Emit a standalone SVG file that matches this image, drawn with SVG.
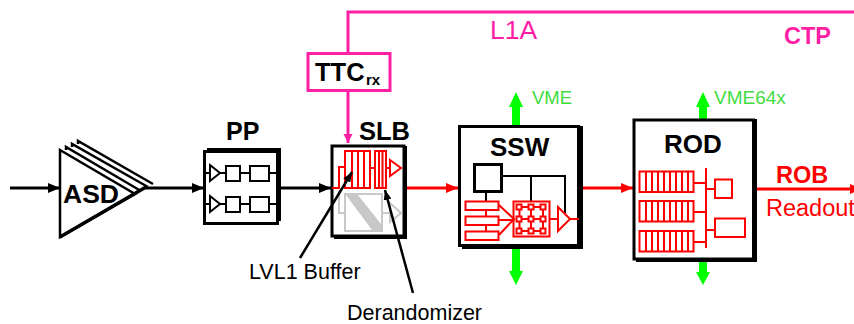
<svg xmlns="http://www.w3.org/2000/svg" width="854" height="324" viewBox="0 0 854 324">
<style>
text{font-family:"Liberation Sans",Arial,sans-serif}
.t{font-weight:700;fill:#000}
.k{fill:none;stroke:#000;stroke-width:2}
.kf{fill:#fff;stroke:#000;stroke-width:2}
.r{fill:none;stroke:#f00;stroke-width:2}
.rf{fill:#fff;stroke:#f00;stroke-width:2}
.g{fill:none;stroke:#c8c8c8;stroke-width:2}
.box{fill:#fff;stroke:#000;stroke-width:3}
.con{fill:none;stroke-width:3}
.lbl{font-size:21.500px;fill:#000}
</style>
<defs>
<marker id="ak" markerUnits="userSpaceOnUse" markerWidth="12" markerHeight="10" refX="12" refY="5" orient="auto"><path d="M0 0L12 5L0 10Z" fill="#000"/></marker>
<marker id="ar" markerUnits="userSpaceOnUse" markerWidth="12" markerHeight="10" refX="12" refY="5" orient="auto"><path d="M0 0L12 5L0 10Z" fill="#f00"/></marker>
<marker id="ap" markerUnits="userSpaceOnUse" markerWidth="9" markerHeight="10" refX="9" refY="5" orient="auto"><path d="M0 0.5L9 5L0 9.5Z" fill="#ff1fa5"/></marker>
<marker id="as" markerUnits="userSpaceOnUse" markerWidth="10" markerHeight="8" refX="10" refY="4" orient="auto"><path d="M0 0L10 4L0 8Z" fill="#000"/></marker>
</defs>
<g id="connectors">
<path class="con" stroke="#000" marker-end="url(#ak)" d="M10 188H60"/>
<path class="con" stroke="#000" marker-end="url(#ak)" d="M144 188H204"/>
<path class="con" stroke="#000" marker-end="url(#ak)" d="M281 188H331"/>
<path class="con" stroke="#f00" marker-end="url(#ar)" d="M407 188H458"/>
<path class="con" stroke="#f00" marker-end="url(#ar)" d="M583 188H633"/>
<path class="con" stroke="#f00" marker-end="url(#ar)" d="M757 189H862"/>
<path class="con" stroke="#ff1fa5" d="M854 12H348V53"/>
<path class="con" stroke="#ff1fa5" marker-end="url(#ap)" d="M348 90V143"/>
<path fill="#0f0" d="M516 92L523 107H520V126H512V107H509Z"/>
<path fill="#0f0" d="M516 285L523 271H520V249H512V271H509Z"/>
<path fill="#0f0" d="M703 92L710 107H707V119H699V107H696Z"/>
<path fill="#0f0" d="M703 285L710 272H707V262H699V272H696Z"/>
</g>
<g id="asd">
<path d="M66 150V147L141 191M72 147V144L148 187M78 144V141L153 184" fill="none" stroke="#000" stroke-width="2.500"/>
<path d="M60 150L135 194L60 237Z" fill="#fff" stroke="#000" stroke-width="2.500"/>
<path d="M60 237L146 187" stroke="#000" stroke-width="3.500" fill="none"/>
<text class="t" x="63" y="203" font-size="26.500">ASD</text>
</g>
<g id="pp">
<path d="M207 148H281V221H278V151H207Z" fill="#000"/>
<rect class="box" x="204.500" y="151.500" width="73" height="72" stroke-width="2"/>
<text class="t" x="226" y="140" font-size="25">PP</text>
<path class="k" d="M204 173H210M220 173H226M240 173H250M269 173H278M204 204H210M220 204H226M240 204H250M269 204H278"/>
<path class="kf" d="M210 165L220 173L210 181ZM210 196L220 204L210 212Z"/>
<rect class="kf" x="226" y="166" width="14" height="15"/><rect class="kf" x="250" y="166" width="19" height="15"/>
<rect class="kf" x="226" y="197" width="14" height="15"/><rect class="kf" x="250" y="197" width="19" height="15"/>
</g>
<g id="ttc">
<rect x="308" y="53.500" width="82" height="37" fill="#fff" stroke="#ff1fa5" stroke-width="3"/>
<text class="t" x="315" y="81" font-size="25.500">TTC</text>
<text class="t" x="366" y="85" font-size="15">rx</text>
</g>
<g id="slb">
<path d="M334 236H404V146H407V239H334Z" fill="#000"/>
<rect class="box" x="332" y="146" width="72" height="90"/>
<text class="t" x="359" y="140" font-size="25.500">SLB</text>
<path class="g" d="M339 190V213H345M382 213H390"/>
<rect class="g" x="345" y="194" width="37" height="37" fill="#fff"/>
<path d="M346 195H358L381 224V230H372Z" fill="#c8c8c8"/>
<path class="g" d="M390 203L401 213L390 222Z"/>
<path class="r" d="M332 188H339V167H345M370 168H375M386 168H390"/>
<rect class="r" x="345" y="151" width="25" height="37"/>
<path class="r" d="M352 151V188M358 151V188M364 151V188"/>
<rect class="r" x="375" y="151" width="11" height="37" fill="#ff8080"/>
<path class="r" d="M379 151V188M382.500 151V188"/>
<path class="r" d="M390 160L401 168L390 176Z" stroke-width="2.500"/>
</g>
<g id="ssw">
<path d="M462 246H579V126H583V249H462Z" fill="#000"/>
<rect class="box" x="459.500" y="126.500" width="119" height="119"/>
<text class="t" x="490" y="156" font-size="26">SSW</text>
<path class="k" d="M502 176H565V213M531 176V201M486 192V201"/>
<rect class="box" x="474.500" y="164.500" width="27" height="27" stroke-width="2.500"/>
<path class="r" d="M486 210V216M486 225V231M499 205L514 219L499 235M499 220H514M550 219H558M570 219H579"/>
<rect class="rf" x="465.500" y="201.500" width="33" height="8.500"/>
<rect class="rf" x="465.500" y="216.500" width="33" height="8.500"/>
<rect class="rf" x="465.500" y="231.500" width="33" height="8.500"/>
<rect class="r" x="513.500" y="201.500" width="36" height="35" fill="#ff6060"/>
<path class="r" d="M519 207H544M519 219H544M519 231H544M519.500 207V231M531 207V231M543 207V231"/>
<g class="rf">
<rect class="rf" x="516.500" y="204.500" width="5" height="5"/><rect class="rf" x="528.500" y="204.500" width="5" height="5"/><rect class="rf" x="540.500" y="204.500" width="5" height="5"/>
<rect class="rf" x="516.500" y="216.500" width="5" height="5"/><rect class="rf" x="528.500" y="216.500" width="5" height="5"/><rect class="rf" x="540.500" y="216.500" width="5" height="5"/>
<rect class="rf" x="516.500" y="228.500" width="5" height="5"/><rect class="rf" x="528.500" y="228.500" width="5" height="5"/><rect class="rf" x="540.500" y="228.500" width="5" height="5"/>
</g>
<path class="rf" d="M558 207L570 219L558 231Z"/>
</g>
<g id="rod">
<path d="M636 259H754V119H757V262H636Z" fill="#000"/>
<rect class="box" x="634" y="120" width="119.500" height="139" stroke-width="3.500"/>
<text class="t" x="664" y="153" font-size="26">ROD</text>
<path class="r" d="M706 168V248M694 183H706M694 212H706M694 242H706M706 189H715M706 230H715"/>
<rect class="r" x="639.500" y="171.500" width="54" height="20.500"/>
<rect class="r" x="639.500" y="201" width="54" height="20.500"/>
<rect class="r" x="639.500" y="231" width="54" height="20.500"/>
<path class="r" stroke-width="1.500" d="M646 171V192M652 171V192M658 171V192M664 171V192M670 171V192M676 171V192M682 171V192M688 171V192M646 201V222M652 201V222M658 201V222M664 201V222M670 201V222M676 201V222M682 201V222M688 201V222M646 231V252M652 231V252M658 231V252M664 231V252M670 231V252M676 231V252M682 231V252M688 231V252"/>
<rect class="rf" x="715" y="179.500" width="17" height="18.500"/>
<rect class="rf" x="715" y="218.500" width="30" height="18.500"/>
</g>
<g id="labels">
<path d="M300 258L352 172" stroke="#000" stroke-width="2.500" fill="none" marker-end="url(#as)"/>
<path d="M413 293L385 190" stroke="#000" stroke-width="2.500" fill="none" marker-end="url(#as)"/>
<text class="lbl" x="249" y="279">LVL1 Buffer</text>
<text class="lbl" x="347" y="320">Derandomizer</text>
<text x="490" y="39" font-size="26.500" fill="#ff1fa5">L1A</text>
<text x="784" y="44" font-size="23.500" font-weight="700" fill="#ff1fa5">CTP</text>
<text x="532" y="104" font-size="18.500" fill="#3fdc3f">VME</text>
<text x="714" y="104" font-size="19" fill="#3fdc3f">VME64x</text>
<text x="776" y="183" font-size="23.500" font-weight="700" fill="#f00">ROB</text>
<text x="766" y="216" font-size="23.500" fill="#f00">Readout</text>
</g>
</svg>
